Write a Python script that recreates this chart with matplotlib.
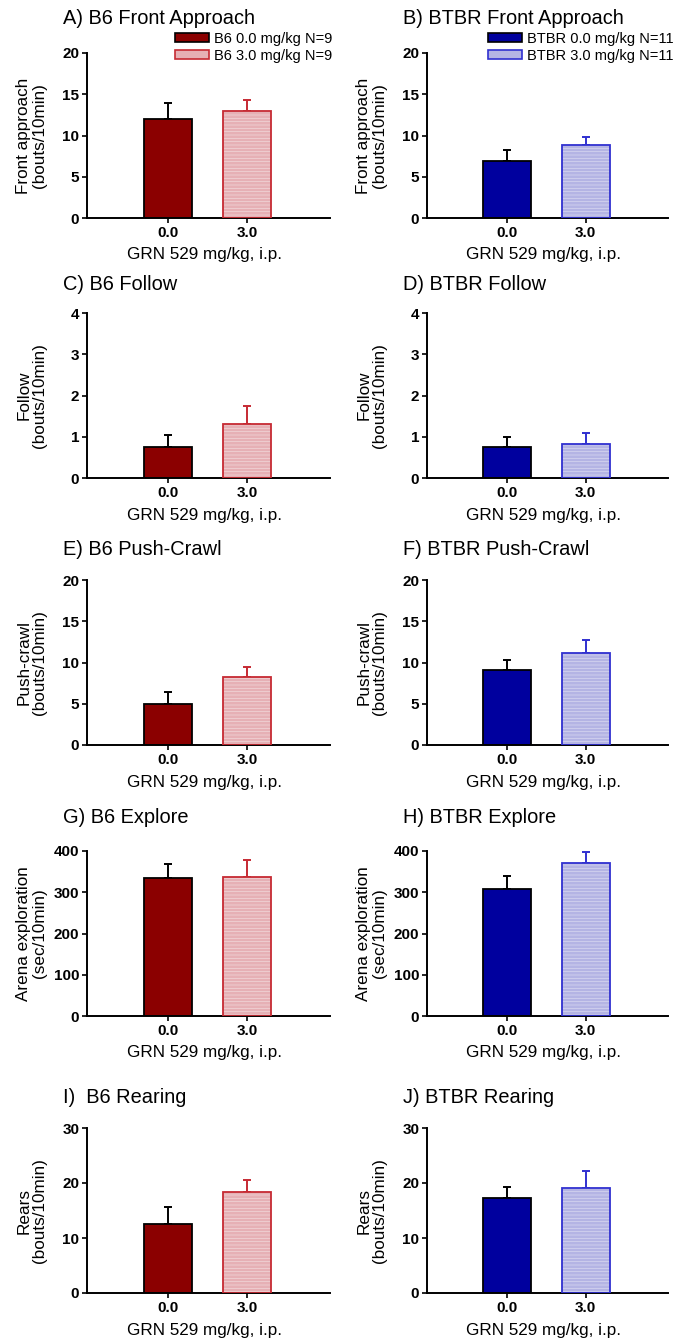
import matplotlib
matplotlib.use("Agg")
import matplotlib.pyplot as plt
from matplotlib.patches import Patch
import numpy as np

plt.rcParams['font.family'] = ['Liberation Sans', 'DejaVu Sans']
plt.rcParams['hatch.linewidth'] = 0.35

# ---------------- data ----------------
doses = ["0.0", "3.0"]
measures = ["Front Approach", "Follow", "Push-Crawl", "Explore", "Rearing"]
left_titles = ["A) B6 Front Approach", "C) B6 Follow", "E) B6 Push-Crawl",
               "G) B6 Explore", "I)  B6 Rearing"]
right_titles = ["B) BTBR Front Approach", "D) BTBR Follow", "F) BTBR Push-Crawl",
                "H) BTBR Explore", "J) BTBR Rearing"]
ylabels = ["Front approach\n(bouts/10min)", "Follow\n(bouts/10min)",
           "Push-crawl\n(bouts/10min)", "Arena exploration\n(sec/10min)",
           "Rears\n(bouts/10min)"]
ymax = [20, 4, 20, 400, 30]
ystep = [5, 1, 5, 100, 10]

b6_ctrl_mean = [12.0, 0.76, 5.0, 335, 12.5]
b6_ctrl_sem = [1.9, 0.29, 1.4, 34, 3.1]
b6_drug_mean = [13.0, 1.32, 8.3, 336, 18.4]
b6_drug_sem = [1.35, 0.42, 1.2, 41, 2.1]
btbr_ctrl_mean = [6.9, 0.74, 9.1, 308, 17.3]
btbr_ctrl_sem = [1.33, 0.25, 1.25, 31, 2.0]
btbr_drug_mean = [8.8, 0.82, 11.1, 370, 19.1]
btbr_drug_sem = [1.05, 0.26, 1.6, 28, 3.0]

legend_b6 = ["B6 0.0 mg/kg N=9", "B6 3.0 mg/kg N=9"]
legend_btbr = ["BTBR 0.0 mg/kg N=11", "BTBR 3.0 mg/kg N=11"]
xlabel = "GRN 529 mg/kg, i.p."

# ---------------- styles ----------------
styles = {
    "b6": dict(ctrl="#8B0000", ctrl_edge="black", drug="#E6B0B5",
               drug_edge="#C62A33"),
    "btbr": dict(ctrl="#00009E", ctrl_edge="black", drug="#B4B4E4",
                 drug_edge="#3030D0"),
}

W, H = 675, 1340
fig = plt.figure(figsize=(W / 100, H / 100), dpi=100)

row_tops = [53, 313, 580, 851, 1128]
ax_h = 165
title_base = [24, 290, 555, 823, 1103]
col_left = [87, 427]
col_w = [243, 241]
title_x = [63, 403]


def draw(ax, strain, ctrl_m, ctrl_s, drug_m, drug_s, ym, step, ylab, w):
    st = styles[strain]
    x = np.arange(len(doses))
    bw = 0.61
    ax.bar(x[0], ctrl_m, bw, color=st["ctrl"], edgecolor=st["ctrl_edge"],
           linewidth=1.3, zorder=2)
    # hatched fill for drug bar: thin white horizontal lines over light fill
    ax.bar(x[1], drug_m, bw, color=st["drug"], edgecolor="#F6E8EA" if strain == "b6" else "#E6E6F6",
           hatch="-----", linewidth=0, zorder=2)
    ax.bar(x[1], drug_m, bw, color="none", edgecolor=st["drug_edge"],
           linewidth=1.3, zorder=3)
    ax.errorbar(x[0], ctrl_m, yerr=[[0], [ctrl_s]], fmt="none",
                ecolor="black", elinewidth=1.4, capsize=3.2, capthick=1.4,
                zorder=1)
    ax.errorbar(x[1], drug_m, yerr=[[0], [drug_s]], fmt="none",
                ecolor=st["drug_edge"], elinewidth=1.4, capsize=3.2,
                capthick=1.4, zorder=1)
    ax.set_xlim(-1.025, 2.05)
    ax.set_ylim(0, ym)
    ax.set_yticks(np.arange(0, ym + step / 2, step))
    ax.set_xticks(x)
    ax.set_xticklabels(doses)
    for s in ["top", "right"]:
        ax.spines[s].set_visible(False)
    for s in ["left", "bottom"]:
        ax.spines[s].set_linewidth(1.4)
    ax.tick_params(axis="both", direction="out", length=3.5, width=1.2,
                   labelsize=11, pad=2)
    for lab in ax.get_xticklabels() + ax.get_yticklabels():
        lab.set_fontweight("bold")
    ax.set_ylabel(ylab, fontsize=12.3, linespacing=1.05)
    ax.yaxis.set_label_coords(-40 / w, 0.5)
    ax.set_xlabel(xlabel, fontsize=12.3, labelpad=0)
    ax.xaxis.set_label_coords(0.485, -37 / 165)
    ax.xaxis.label.set_va("center")


for r in range(5):
    for c, strain in enumerate(["b6", "btbr"]):
        left = col_left[c] / W
        bottom = 1 - (row_tops[r] + ax_h) / H
        ax = fig.add_axes([left, bottom, col_w[c] / W, ax_h / H])
        if strain == "b6":
            draw(ax, strain, b6_ctrl_mean[r], b6_ctrl_sem[r], b6_drug_mean[r],
                 b6_drug_sem[r], ymax[r], ystep[r], ylabels[r], col_w[c])
        else:
            draw(ax, strain, btbr_ctrl_mean[r], btbr_ctrl_sem[r],
                 btbr_drug_mean[r], btbr_drug_sem[r],
                 ymax[r], ystep[r], ylabels[r], col_w[c])
        title = left_titles[r] if c == 0 else right_titles[r]
        fig.text(title_x[c] / W, 1 - title_base[r] / H, title, fontsize=14.4,
                 ha="left", va="baseline")
        if r == 0:
            st = styles[strain]
            labels = legend_b6 if c == 0 else legend_btbr
            handles = [Patch(facecolor=st["ctrl"], edgecolor=st["ctrl_edge"],
                             linewidth=1.2),
                       Patch(facecolor=st["drug"], edgecolor=st["drug_edge"],
                             linewidth=1.2)]
            lx = (175 - 87) / 243 if c == 0 else (488 - 427) / 241
            ax.legend(handles, labels, loc="upper left",
                      bbox_to_anchor=(lx, 1.13), frameon=False, borderpad=0,
                      borderaxespad=0, fontsize=10.5, handlelength=2.3,
                      handleheight=0.5, handletextpad=0.35,
                      labelspacing=0.22)

fig.savefig("out.png", dpi=100)
